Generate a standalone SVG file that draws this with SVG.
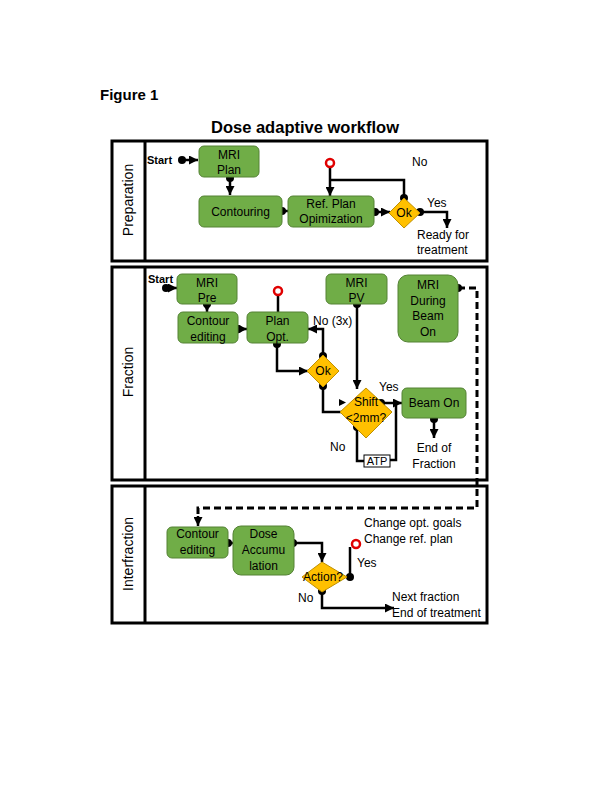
<svg xmlns="http://www.w3.org/2000/svg" width="600" height="800" viewBox="0 0 600 800">
<defs>
<marker id="ah" markerUnits="userSpaceOnUse" markerWidth="9" markerHeight="9" viewBox="0 0 10 10" refX="10" refY="5" orient="auto">
<path d="M0,0 L10,5 L0,10 z" fill="#000"/>
</marker>
<style>
text{font-family:"Liberation Sans",Arial,sans-serif;font-size:12px;fill:#000}
.c{text-anchor:middle}
.b{font-weight:bold}
.lane{fill:none;stroke:#000;stroke-width:3}
.g{fill:#70AD47;stroke:#548235;stroke-width:1}
.d{fill:#FFC000;stroke:#BF9000;stroke-width:1}
.ln{fill:none;stroke:#000;stroke-width:2.5}
.ar{marker-end:url(#ah)}
.dash{fill:none;stroke:#000;stroke-width:3;stroke-dasharray:7,4}
.dot{fill:#000}
.red{fill:#fff;stroke:#E00000;stroke-width:2.5}
.rot{font-size:14px;text-anchor:middle}
</style>
</defs>
<rect width="600" height="800" fill="#fff"/>
<text x="100" y="100" class="b" style="font-size:15px">Figure 1</text>
<text x="305" y="133" class="b c" style="font-size:16.5px">Dose adaptive workflow</text>

<g id="lanes">
<rect class="lane" x="112" y="141" width="375" height="120"/>
<line class="lane" x1="145" y1="141" x2="145" y2="261"/>
<text class="rot" transform="translate(133,200) rotate(-90)">Preparation</text>
<rect class="lane" x="112" y="267" width="375" height="213"/>
<line class="lane" x1="145" y1="267" x2="145" y2="480"/>
<text class="rot" transform="translate(133,372) rotate(-90)">Fraction</text>
<rect class="lane" x="112" y="486" width="375" height="137"/>
<line class="lane" x1="145" y1="486" x2="145" y2="623"/>
<text class="rot" transform="translate(133,554) rotate(-90)">Interfraction</text>
</g>

<g id="connectors">
<!-- Preparation -->
<line class="ln ar" x1="182" y1="160" x2="198" y2="160"/>
<line class="ln ar" x1="230" y1="178" x2="230" y2="195"/>
<line class="ln ar" x1="282" y1="211" x2="288" y2="211"/>
<line class="ln ar" x1="330" y1="167" x2="330" y2="196"/>
<polyline class="ln" points="330,180 404,180 404,198"/>
<line class="ln ar" x1="375" y1="212" x2="390" y2="212"/>
<polyline class="ln ar" points="420,212 447,212 447,228"/>
<!-- Fraction -->
<line class="ln ar" x1="166" y1="288" x2="177" y2="288"/>
<line class="ln ar" x1="207" y1="304" x2="207" y2="312"/>
<line class="ln ar" x1="238" y1="329" x2="247" y2="329"/>
<line class="ln" x1="278" y1="295" x2="278" y2="312"/>
<polyline class="ln ar" points="277,344 277,371 308,371"/>
<polyline class="ln ar" points="323,356 323,329 308,329"/>
<polyline class="ln" points="323,386 323,412 341,412"/>
<path d="M339,399 L346,402.5 L339,406 z" fill="#000"/>
<line class="ln ar" x1="357" y1="304" x2="357" y2="389"/>
<line class="ln ar" x1="381" y1="403" x2="402" y2="403"/>
<polyline class="ln" points="396,403 396,460 390,460"/>
<polyline class="ln" points="357,427 357,461 364,461"/>
<line class="ln ar" x1="434" y1="419" x2="434" y2="438"/>
<polyline class="dash" points="458,288 477,288 477,508 198,508 198,518"/>
<line class="ln ar" x1="198" y1="516" x2="198" y2="526"/>
<!-- Interfraction -->
<line class="ln ar" x1="228" y1="543" x2="233" y2="543"/>
<polyline class="ln ar" points="293,543 322,543 322,562"/>
<line class="ln" x1="350" y1="577" x2="350" y2="547"/>
<polyline class="ln ar" points="322,591 322,608 394,608"/>
<!-- dots -->
<circle class="dot" cx="182" cy="160" r="4"/>
<circle class="dot" cx="230" cy="178" r="4"/>
<circle class="dot" cx="282" cy="211" r="4"/>
<circle class="dot" cx="404" cy="198" r="4"/>
<circle class="dot" cx="375" cy="212" r="4"/>
<circle class="dot" cx="420" cy="212" r="4"/>
<circle class="dot" cx="166" cy="288" r="4"/>
<circle class="dot" cx="207" cy="304" r="4"/>
<circle class="dot" cx="238" cy="329" r="4"/>
<circle class="dot" cx="277" cy="344" r="4"/>
<circle class="dot" cx="323" cy="356" r="4"/>
<circle class="dot" cx="323" cy="386" r="4"/>
<circle class="dot" cx="357" cy="304" r="4"/>
<circle class="dot" cx="381" cy="403" r="4"/>
<circle class="dot" cx="357" cy="427" r="4"/>
<circle class="dot" cx="434" cy="419" r="4"/>
<circle class="dot" cx="458" cy="288" r="4"/>
<circle class="dot" cx="228" cy="543" r="4"/>
<circle class="dot" cx="293" cy="543" r="4"/>
<circle class="dot" cx="350" cy="577" r="4"/>
<circle class="dot" cx="322" cy="591" r="4"/>
<circle class="red" cx="330" cy="163" r="4"/>
<circle class="red" cx="278" cy="291" r="4"/>
<circle class="red" cx="356" cy="544" r="4"/>
</g>

<g id="labels">
<text x="147" y="164" class="b" style="font-size:11px">Start</text>
<text x="412" y="166">No</text>
<text x="427" y="207">Yes</text>
<text x="417" y="239">Ready for</text>
<text x="417" y="254">treatment</text>
<text x="148" y="283" class="b" style="font-size:11px">Start</text>
<text x="313" y="325">No (3x)</text>
<text x="379" y="391">Yes</text>
<text x="330" y="451">No</text>
<text x="434" y="452" class="c">End of</text>
<text x="434" y="468" class="c">Fraction</text>
<text x="364" y="527">Change opt. goals</text>
<text x="364" y="543">Change ref. plan</text>
<text x="357" y="567">Yes</text>
<text x="298" y="602">No</text>
<text x="392" y="601">Next fraction</text>
<text x="392" y="617">End of treatment</text>
</g>

<g id="n-mri-plan"><rect class="g" x="199" y="146" width="60" height="31" rx="5"/><text x="229" y="159" class="c">MRI</text><text x="229" y="174" class="c">Plan</text></g>
<g id="n-contouring"><rect class="g" x="199" y="196" width="83" height="31" rx="5"/><text x="240.5" y="216" class="c">Contouring</text></g>
<g id="n-refplan"><rect class="g" x="288" y="196" width="86" height="31" rx="5"/><text x="331" y="208" class="c">Ref. Plan</text><text x="331" y="223" class="c">Opimization</text></g>
<g id="n-ok1"><polygon class="d" points="404,198 420,213 404,228 389,213"/><text x="404" y="217" class="c">Ok</text></g>

<g id="n-mri-pre"><rect class="g" x="177" y="274" width="60" height="30" rx="5"/><text x="207" y="287" class="c">MRI</text><text x="207" y="302" class="c">Pre</text></g>
<g id="n-contour-edit1"><rect class="g" x="178" y="312" width="60" height="31" rx="5"/><text x="208" y="325" class="c">Contour</text><text x="208" y="341" class="c">editing</text></g>
<g id="n-planopt"><rect class="g" x="247" y="312" width="61" height="31" rx="5"/><text x="277.5" y="325" class="c">Plan</text><text x="277.5" y="341" class="c">Opt.</text></g>
<g id="n-ok2"><polygon class="d" points="323,355 339,371 323,387 307,371"/><text x="323" y="375" class="c">Ok</text></g>
<g id="n-mri-pv"><rect class="g" x="326" y="274" width="61" height="30" rx="5"/><text x="356.5" y="287" class="c">MRI</text><text x="356.5" y="302" class="c">PV</text></g>
<g id="n-shift"><polygon class="d" points="366,388 392,412 366,438 340,412"/><text x="366" y="406" class="c">Shift</text><text x="366" y="422" class="c">&lt;2mm?</text></g>
<g id="n-atp"><rect x="364" y="455" width="26" height="12" fill="#fff" stroke="#000" stroke-width="1"/><text x="377" y="465" class="c" style="font-size:11px">ATP</text></g>
<g id="n-beamon"><rect class="g" x="402" y="388" width="64" height="30" rx="5"/><text x="434" y="407" class="c">Beam On</text></g>
<g id="n-mri-during"><rect class="g" x="398" y="275" width="60" height="67" rx="10"/><text x="428" y="289" class="c">MRI</text><text x="428" y="305" class="c">During</text><text x="428" y="320" class="c">Beam</text><text x="428" y="336" class="c">On</text></g>

<g id="n-contour-edit2"><rect class="g" x="167" y="527" width="61" height="31" rx="5"/><text x="197.5" y="538" class="c">Contour</text><text x="197.5" y="554" class="c">editing</text></g>
<g id="n-dose-acc"><rect class="g" x="233" y="526" width="61" height="49" rx="8"/><text x="263.5" y="538" class="c">Dose</text><text x="263.5" y="554" class="c">Accumu</text><text x="263.5" y="570" class="c">lation</text></g>
<g id="n-action"><polygon class="d" points="322,562 347,577 322,592 302,577"/><text x="323" y="581" class="c">Action?</text></g>
</svg>
